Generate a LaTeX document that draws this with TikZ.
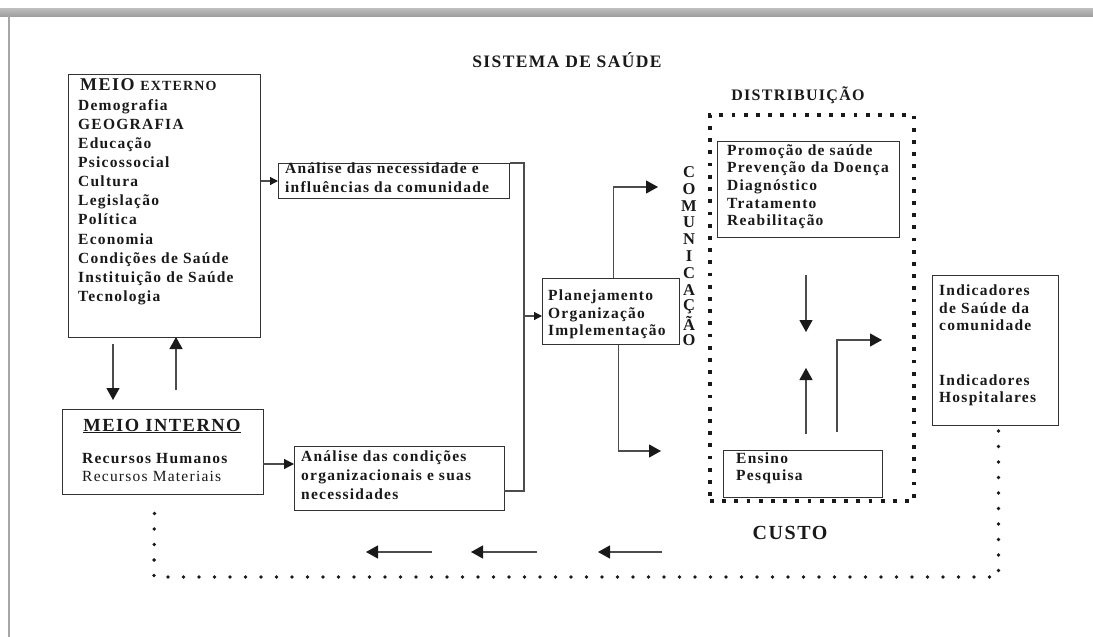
\documentclass[tikz,border=0pt]{standalone}
\usepackage{fontspec}
\setmainfont{Liberation Serif}[LetterSpace=8]
\usetikzlibrary{arrows.meta}
\tikzset{
  box/.style={draw=black!80,line width=1pt,rectangle,inner sep=0pt,anchor=north west},
  txt/.style={anchor=mid west,inner sep=0pt,font=\fontsize{15.5}{18}\selectfont\bfseries,text=black!90},
  rtxt/.style={anchor=mid west,inner sep=0pt,font=\fontsize{15.5}{18}\selectfont,text=black!90},
  head/.style={inner sep=0pt,text=black!90},
  conn/.style={draw=black!70,line width=1.2pt},
  sarrow/.style={conn,-{Triangle[width=8pt,length=8pt,color=black!90]}},
  barrow/.style={conn,-{Triangle[width=13pt,length=12pt,color=black!90]}},
  distdots/.style={draw=black!90,line width=3.8pt,dash pattern=on 3.8pt off 8.4pt},
  loopdots/.style={draw=black!90,line width=3.8pt,line cap=round,dash pattern=on 0pt off 15.5pt},
}
\begin{document}
\begin{tikzpicture}[x=1pt,y=-1pt]
\useasboundingbox (0,0) rectangle (1093,637);
\fill[white] (0,0) rectangle (1093,637);
% window frame
\shade[top color=gray!50,middle color=gray!10,bottom color=gray!75] (0,8) rectangle (1093,16);
\draw[gray!70,line width=1.5pt] (9,15) -- (9,637);

% title
\node[head,font=\fontsize{17.5}{21}\selectfont\bfseries] (title) at (567,60) {SISTEMA DE SAÚDE};

% ---------- MEIO EXTERNO
\node[box,minimum width=192pt,minimum height=263pt] (me) at (68,74) {};
\node[anchor=mid west,inner sep=0pt,text=black!90] (metitle) at (80,88)
  {\bfseries\fontsize{18}{21}\selectfont MEIO \fontsize{14}{17}\selectfont EXTERNO};
\foreach \y/\t [count=\i] in {108/Demografia,127/GEOGRAFIA,146/Educação,165/Psicossocial,184/Cultura,203/Legislação,222/Política,242/Economia,261/Condições de Saúde,280/Instituição de Saúde,299/Tecnologia}
  \node[txt] (me\i) at (78,\y) {\t};

% ---------- MEIO INTERNO
\node[box,minimum width=201pt,minimum height=85pt] (mi) at (62,409) {};
\node[head,font=\fontsize{18.5}{22}\selectfont\bfseries] (mititle) at (162,426) {\underline{MEIO INTERNO}};
\node[txt] (mi1) at (82,461) {Recursos Humanos};
\node[rtxt] (mi2) at (82,479) {Recursos Materiais};

% arrows between meio externo / interno
\coordinate (d1a) at (113,344); \coordinate (d1b) at (113,400);
\coordinate (u1a) at (176,390); \coordinate (u1b) at (176,337);
\draw[barrow] (d1a) -- (d1b);
\draw[barrow] (u1a) -- (u1b);

% ---------- Analise boxes
\node[box,minimum width=231pt,minimum height=35pt] (an) at (278,163) {};
\node[txt] (an1) at (285,171) {Análise das necessidade e};
\node[txt] (an2) at (285,190) {influências da comunidade};

\node[box,minimum width=210pt,minimum height=64pt] (ac) at (294,446) {};
\node[txt] (ac1) at (301,459) {Análise das condições};
\node[txt] (ac2) at (301,478) {organizacionais e suas};
\node[txt] (ac3) at (301,497) {necessidades};

\draw[sarrow] (me.east |- an.west) -- (an.west);
\coordinate (mia) at (263,464);
\draw[sarrow,-{Triangle[width=10pt,length=10pt,color=black!90]}] (mia) -- (mia -| ac.west);

% ---------- Planejamento
\node[box,minimum width=137pt,minimum height=66pt] (pl) at (542,278) {};
\node[txt] (pl1) at (548,298) {Planejamento};
\node[txt] (pl2) at (548,316) {Organização};
\node[txt] (pl3) at (548,333) {Implementação};

\coordinate (bus) at (524,316);
\coordinate (acj) at (504,491);
\draw[conn] (an.north east) -| (bus) |- (acj);
\draw[sarrow] (bus) -- (bus -| pl.west);

\coordinate (upend) at (658,187);
\coordinate (dnend) at (661,451);
\draw[barrow] ([xshift=2.5pt]pl.north) |- (upend);
\draw[barrow] ([xshift=7.5pt]pl.south) |- (dnend);

% COMUNICACAO
\foreach \l [count=\i] in {C,O,M,U,N,I,C,A,Ç,Ã,O}
  \node[head,font=\fontsize{16.5}{19}\selectfont\bfseries] (com\i) at (689,{172+16.8*(\i-1)}) {\l};

% ---------- Distribuicao
\node[head,font=\fontsize{16}{19}\selectfont\bfseries] (distt) at (798,95) {DISTRIBUIÇÃO};
\node[box,distdots,minimum width=204pt,minimum height=386pt] (dist) at (708,113) {};

\node[box,minimum width=182pt,minimum height=96pt] (pr) at (717,141) {};
\foreach \y/\t [count=\i] in {153/Promoção de saúde,170/Prevenção da Doença,188/Diagnóstico,206/Tratamento,223/Reabilitação}
  \node[txt] (pr\i) at (727,\y) {\t};

\node[box,minimum width=159pt,minimum height=47pt] (en) at (723,450) {};
\node[txt] (en1) at (736,461) {Ensino};
\node[txt] (en2) at (736,478) {Pesquisa};

\coordinate (da) at (806,275); \coordinate (db) at (806,332);
\coordinate (ua) at (806,434); \coordinate (ub) at (806,368);
\coordinate (ba) at (837,432); \coordinate (bb) at (882,340);
\draw[barrow] (da) -- (db);
\draw[barrow] (ua) -- (ub);
\draw[barrow] (ba) |- (bb);

\node[head,font=\fontsize{20}{24}\selectfont\bfseries] (custo) at (790,533) {CUSTO};

% ---------- Indicadores
\node[box,minimum width=126pt,minimum height=150pt] (ind) at (932,275) {};
\foreach \y/\t [count=\i] in {293/Indicadores,311/de Saúde da,328/comunidade,383/Indicadores,400/Hospitalares}
  \node[txt] (ind\i) at (939,\y) {\t};

% ---------- feedback loop
\coordinate (lA) at (154,577);
\draw[loopdots] ([xshift=3pt,yshift=-5pt]ind.south) |- (lA) -- ([xshift=-8.5pt,yshift=-4pt]mi.south);

\coordinate (f1a) at (432,552); \coordinate (f1b) at (366,552);
\coordinate (f2a) at (537,552); \coordinate (f2b) at (471,552);
\coordinate (f3a) at (662,552); \coordinate (f3b) at (598,552);
\draw[barrow] (f1a) -- (f1b);
\draw[barrow] (f2a) -- (f2b);
\draw[barrow] (f3a) -- (f3b);
\end{tikzpicture}
\end{document}
